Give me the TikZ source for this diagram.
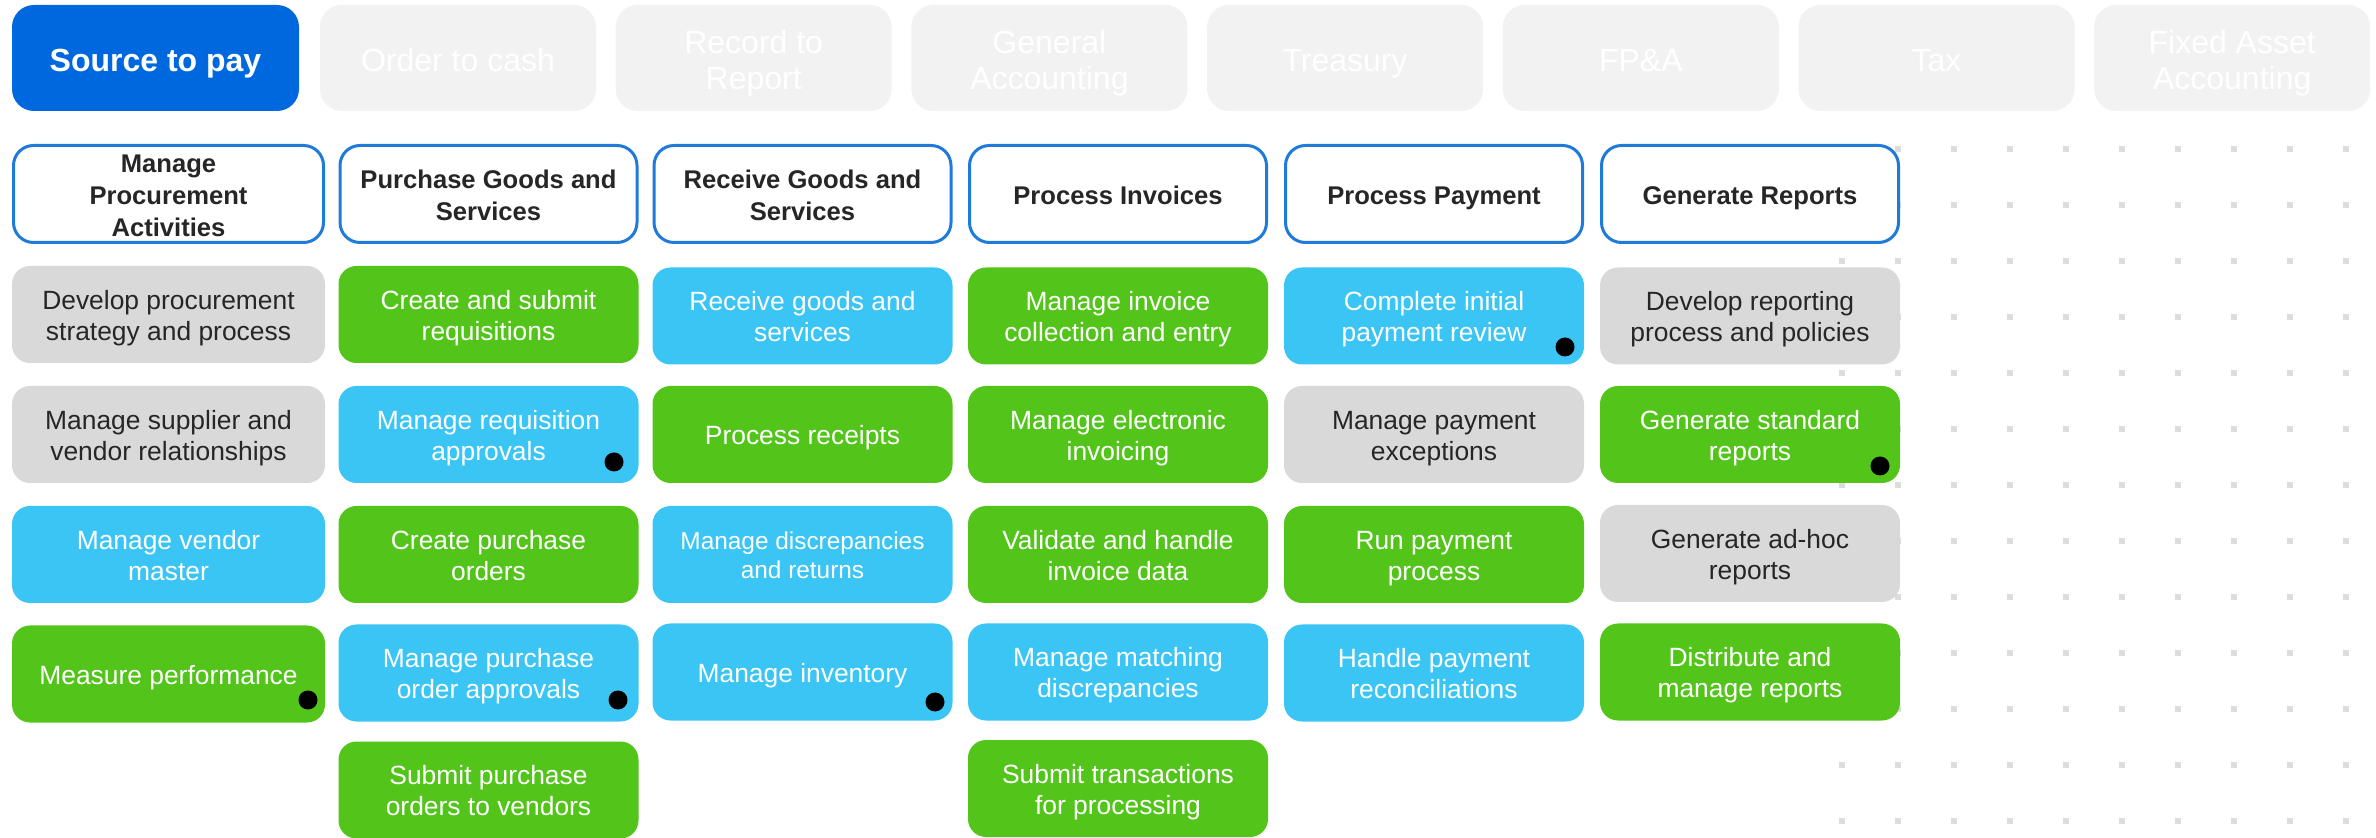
\documentclass[tikz,border=0pt]{standalone}
\usepackage{fontspec}
\setmainfont{Liberation Sans}
\definecolor{tabblue}{RGB}{0,104,222}
\definecolor{tabgray}{RGB}{242,242,242}
\definecolor{headblue}{RGB}{31,122,217}
\definecolor{cgreen}{RGB}{82,196,26}
\definecolor{cblue}{RGB}{58,197,244}
\definecolor{cgray}{RGB}{217,217,217}
\definecolor{dotgray}{RGB}{220,220,220}
\definecolor{textdark}{RGB}{38,38,38}
\newcommand\lowtext[2]{\raisebox{-#1}[\height][\depth]{\begin{tabular}{@{}c@{}}#2\end{tabular}}}
\newcommand\cardtxt[1]{\lowtext{2pt}{#1}}
\newcommand\headtxt[1]{\lowtext{2.2pt}{#1}}
\newcommand\tabtxt[1]{\lowtext{3.2pt}{#1}}
\begin{document}
\begin{tikzpicture}[x=0.5pt,y=-0.5pt,
  tabon/.style={rectangle, rounded corners=11pt, fill=tabblue, text=white,
    font=\bfseries\fontsize{16}{18}\selectfont, minimum width=143.5pt,
    minimum height=53pt, inner sep=0pt},
  taboff/.style={rectangle, rounded corners=11pt, fill=tabgray, text=white,
    font=\fontsize{16}{18}\selectfont, minimum width=138pt,
    minimum height=53pt, inner sep=0pt},
  headbox/.style={rectangle, rounded corners=10pt, draw=headblue, line width=1.5pt,
    fill=white, text=textdark, font=\bfseries\fontsize{12.8}{15.9}\selectfont,
    minimum height=48.5pt, inner sep=0pt},
  card/.style={rectangle, rounded corners=9pt, text=white,
    font=\fontsize{13.2}{15.6}\selectfont, minimum height=48.5pt,
    inner sep=0pt},
  greenbox/.style={card, fill=cgreen},
  bluebox/.style={card, fill=cblue},
  graybox/.style={card, fill=cgray, text=textdark},
  wcol/.style={minimum width=156.5pt},
  ncol/.style={minimum width=150pt},
  hwcol/.style={minimum width=155pt},
  hncol/.style={minimum width=148.5pt},
  blackdot/.style={circle, fill=black, minimum size=9.5pt, inner sep=0pt}
]
\useasboundingbox[fill=white] (0,0) rectangle (2376,838);

% dot grid
\foreach \i in {0,...,9}
  \foreach \j in {0,...,12}
    \fill[dotgray] ({1842+56*\i-3},{149+56*\j-3}) rectangle ++(6,6);

% tabs
\node[tabon] (t0) at (155.5,58) {\tabtxt{Source to pay}};
\node[taboff] (t1) at (458,58) {\tabtxt{Order to cash}};
\node[taboff] (t2) at (753.7,58) {\tabtxt{Record to\\Report}};
\node[taboff] (t3) at (1049.4,58) {\tabtxt{General\\Accounting}};
\node[taboff] (t4) at (1345.1,58) {\tabtxt{Treasury}};
\node[taboff] (t5) at (1640.8,58) {\tabtxt{FP\&A}};
\node[taboff] (t6) at (1936.5,58) {\tabtxt{Tax}};
\node[taboff] (t7) at (2232.2,58) {\tabtxt{Fixed Asset\\Accounting}};

% headers
\node[headbox, hwcol] (h1) at (168.5,194) {\headtxt{Manage\\Procurement\\Activities}};
\node[headbox, hncol] (h2) at (488.5,194) {\headtxt{Purchase Goods and\\Services}};
\node[headbox, hncol] (h3) at (802.5,194) {\headtxt{Receive Goods and\\Services}};
\node[headbox, hncol] (h4) at (1118,194) {\headtxt{Process Invoices}};
\node[headbox, hncol] (h5) at (1434,194) {\headtxt{Process Payment}};
\node[headbox, hncol] (h6) at (1750,194) {\headtxt{Generate Reports}};

% column 1
\node[graybox, wcol] (a1) at (168.5,314.5) {\cardtxt{Develop procurement\\strategy and process}};
\node[graybox, wcol] (a2) at (168.5,434.5) {\cardtxt{Manage supplier and\\vendor relationships}};
\node[bluebox, wcol] (a3) at (168.5,554.5) {\cardtxt{Manage vendor\\master}};
\node[greenbox, wcol] (a4) at (168.5,674) {\cardtxt{Measure performance}};

% column 2
\node[greenbox, ncol] (b1) at (488.5,314.5) {\cardtxt{Create and submit\\requisitions}};
\node[bluebox, ncol] (b2) at (488.5,434.5) {\cardtxt{Manage requisition\\approvals}};
\node[greenbox, ncol] (b3) at (488.5,554.5) {\cardtxt{Create purchase\\orders}};
\node[bluebox, ncol] (b4) at (488.5,673) {\cardtxt{Manage purchase\\order approvals}};
\node[greenbox, ncol] (b5) at (488.5,790) {\cardtxt{Submit purchase\\orders to vendors}};

% column 3
\node[bluebox, ncol] (c1) at (802.5,316) {\cardtxt{Receive goods and\\services}};
\node[greenbox, ncol] (c2) at (802.5,434.5) {\cardtxt{Process receipts}};
\node[bluebox, ncol, font=\fontsize{12.2}{14.6}\selectfont] (c3) at (802.5,554.5) {\cardtxt{Manage discrepancies\\and returns}};
\node[bluebox, ncol] (c4) at (802.5,672) {\cardtxt{Manage inventory}};

% column 4
\node[greenbox, ncol] (d1) at (1118,316) {\cardtxt{Manage invoice\\collection and entry}};
\node[greenbox, ncol] (d2) at (1118,434.5) {\cardtxt{Manage electronic\\invoicing}};
\node[greenbox, ncol] (d3) at (1118,554.5) {\cardtxt{Validate and handle\\invoice data}};
\node[bluebox, ncol] (d4) at (1118,672) {\cardtxt{Manage matching\\discrepancies}};
\node[greenbox, ncol] (d5) at (1118,788.5) {\cardtxt{Submit transactions\\for processing}};

% column 5
\node[bluebox, ncol] (e1) at (1434,316) {\cardtxt{Complete initial\\payment review}};
\node[graybox, ncol] (e2) at (1434,434.5) {\cardtxt{Manage payment\\exceptions}};
\node[greenbox, ncol] (e3) at (1434,554.5) {\cardtxt{Run payment\\process}};
\node[bluebox, ncol] (e4) at (1434,673) {\cardtxt{Handle payment\\reconciliations}};

% column 6
\node[graybox, ncol] (f1) at (1750,316) {\cardtxt{Develop reporting\\process and policies}};
\node[greenbox, ncol] (f2) at (1750,434.5) {\cardtxt{Generate standard\\reports}};
\node[graybox, ncol] (f3) at (1750,553.5) {\cardtxt{Generate ad-hoc\\reports}};
\node[greenbox, ncol] (f4) at (1750,672) {\cardtxt{Distribute and\\manage reports}};

% black markers
\node[blackdot] (m1) at (308,700) {};
\node[blackdot] (m2) at (614,462) {};
\node[blackdot] (m3) at (618,700) {};
\node[blackdot] (m4) at (935,702) {};
\node[blackdot] (m5) at (1565,347) {};
\node[blackdot] (m6) at (1880,466) {};
\end{tikzpicture}
\end{document}
